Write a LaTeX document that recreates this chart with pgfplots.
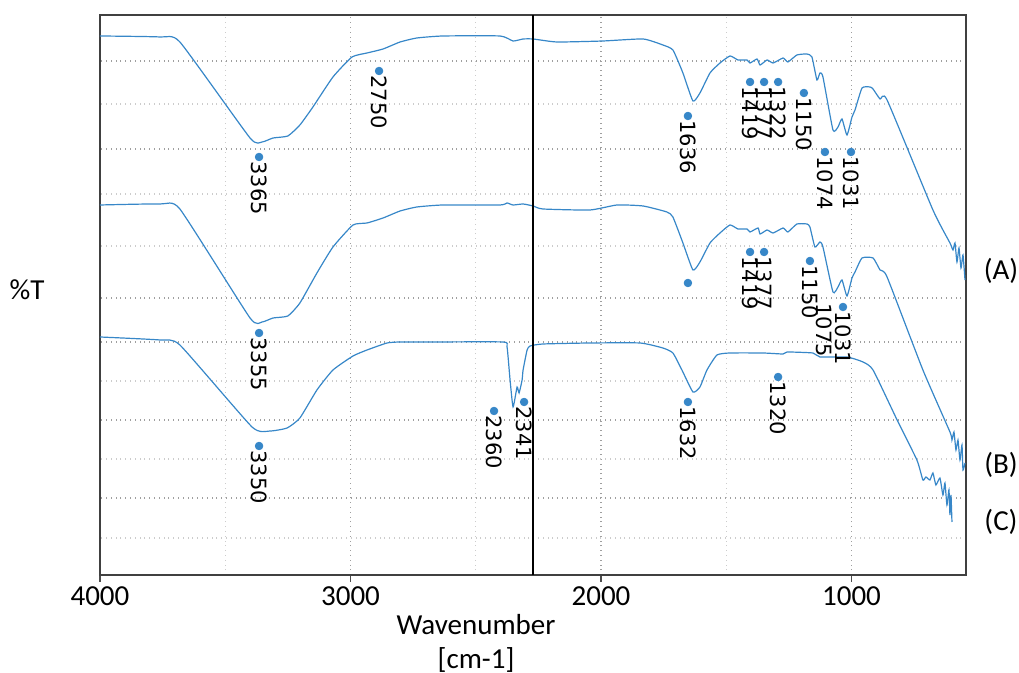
\documentclass[border=0pt]{standalone}
\usepackage{fontspec}
\setmainfont{Carlito}
\newfontfamily\dejavu{DejaVu Sans}
\usepackage{pgfplots}
\pgfplotsset{compat=1.18}
\definecolor{specblue}{RGB}{55,135,200}
\newcommand{\labfont}{\fontsize{14.5}{17}\selectfont}
\newcommand{\peakfont}{\dejavu\fontsize{10.5}{12}\selectfont}

\begin{document}
\begin{tikzpicture}
\useasboundingbox (-50pt,-49pt) rectangle (459.5pt,287.5pt);
\begin{axis}[
    scale only axis,
    width=433pt, height=280pt,
    x dir=reverse,
    xmin=543, xmax=4000,
    ymin=0, ymax=560,
    xtick={1000,2000,3000,4000},
    minor xtick={1500,2500,3500},
    ytick={514,426,277,233,155,77},
    minor ytick={471,381,329,194,116,37},
    yticklabels={},
    grid=both,
    major grid style={dotted, gray!75, line width=0.6pt},
    minor grid style={dotted, gray!40, line width=0.6pt},
    xtick pos=left,
    tick align=outside,
    major tick length=3.5pt,
    minor tick length=0pt,
    y tick style={draw=none},
    x tick style={black!70, line width=0.6pt},
    xticklabel style={font=\labfont, yshift=1pt},
    /pgf/number format/assume math mode=true,
    /pgf/number format/1000 sep={},
    axis line style={black!75, line width=0.7pt},
    spec/.style={specblue, line width=0.6pt, smooth, tension=0.3},
]
% spectrum A
\addplot[spec] coordinates {
    (4000,539) (3760,538) (3681,533) (3401,437) (3353,433) (3309,437)
    (3250,439) (3202,450) (3150,468) (3070,498) (2994,518) (2934,522)
    (2870,526) (2802,533) (2735,537) (2631,539) (2403,539) (2351,534)
    (2311,536) (2271,536) (2176,533) (1992,534) (1832,536) (1753,530)
    (1713,525) (1673,502) (1633,474) (1605,482) (1565,502) (1525,512)
    (1485,519) (1453,515) (1417,515) (1405,512) (1377,516) (1365,510)
    (1337,515) (1313,512) (1273,517) (1254,513) (1218,520) (1178,521)
    (1158,518) (1138,495) (1126,502) (1114,498) (1074,445) (1054,448)
    (1038,456) (1018,440) (998,458) (986,465) (958,487) (926,488)
    (914,486) (886,476) (858,475) (675,365) (607,332) (595,325)
    (587,332) (579,313) (571,327) (563,307) (555,320) (547,295)
};
% spectrum B
\addplot[spec] coordinates {
    (4000,370) (3760,371) (3681,366) (3401,257) (3353,253) (3309,257)
    (3250,259) (3202,272) (3134,302) (3070,328) (2990,350) (2934,352)
    (2870,357) (2802,364) (2735,368) (2631,370) (2403,370) (2375,372)
    (2351,370) (2311,371) (2271,369) (2232,366) (2044,365) (1936,370)
    (1832,369) (1737,363) (1713,358) (1673,332) (1633,305) (1605,313)
    (1565,332) (1525,342) (1485,350) (1453,346) (1417,346) (1405,343)
    (1373,347) (1365,341) (1337,345) (1313,342) (1273,347) (1254,343)
    (1218,351) (1178,351) (1166,348) (1146,328) (1126,333) (1114,328)
    (1074,283) (1054,288) (1038,295) (1018,279) (998,297) (986,303)
    (958,317) (914,317) (886,305) (858,298) (715,205) (607,143)
    (599,135) (591,143) (583,125) (575,135) (567,115) (559,130)
    (555,105) (547,112)
};
% spectrum C
\addplot[spec] coordinates {
    (4000,238) (3760,235) (3681,230) (3393,148)
    (3321,144) (3253,147) (3202,157) (3134,185) (3070,205) (2990,219)
    (2934,225) (2854,232) (2802,233) (2671,233) (2391,233) (2375,228)
    (2363,195) (2351,168) (2335,188) (2327,182) (2315,195) (2311,205)
    (2295,225) (2283,229) (2232,231) (2044,232) (1844,232) (1753,227)
    (1713,222) (1677,205) (1633,183) (1605,188) (1577,205) (1537,220)
    (1485,222) (1353,222) (1273,221) (1257,223) (1154,222) (1126,218)
    (1018,218) (954,213) (914,205) (818,155) (739,115) (715,95)
    (703,98) (687,95) (675,102) (663,90) (647,97) (635,80)
    (627,92) (619,70) (611,85) (607,60) (603,80) (599,53)
};
% labelled peaks
\addplot[only marks, mark=*, mark size=1.9pt, specblue,
    nodes near coords, point meta=explicit symbolic,
    every node near coord/.append style={rotate=-90, anchor=west,
        font=\peakfont, text=black, inner sep=2pt}]
    table[meta=lab] {
x y lab
3365 418 3365
2886 504 2750
1653 459 1636
1405 493 1419
1349 493 1377
1293 493 1322
1190 482 1150
1106 423 1074
1002 423 1031
3365 242 3355
1405 323 1419
1349 323 1377
1166 314 1150
1034 268 1031
3365 129 3350
2427 164 2360
2307 173 2341
1653 173 1632
1293 198 1320
};
\addplot[only marks, mark=*, mark size=1.9pt, specblue] coordinates {(1653,292)};
\node[rotate=-90, anchor=west, inner sep=0pt, font=\peakfont]
    at (axis cs:1108,272) {1075};
\draw[black, line width=0.7pt] (axis cs:2271,0) -- (axis cs:2271,560);
\end{axis}
\node[font=\labfont] at (188pt,-25pt) {Wavenumber};
\node[font=\labfont] at (188pt,-42.5pt) {[cm-1]};
\node[font=\labfont] at (-36.5pt,142.5pt) {\%T};
\node[font=\labfont] at (450.5pt,152pt) {(A)};
\node[font=\labfont] at (450.5pt,55pt) {(B)};
\node[font=\labfont] at (450.5pt,26.5pt) {(C)};
\end{tikzpicture}
\end{document}
